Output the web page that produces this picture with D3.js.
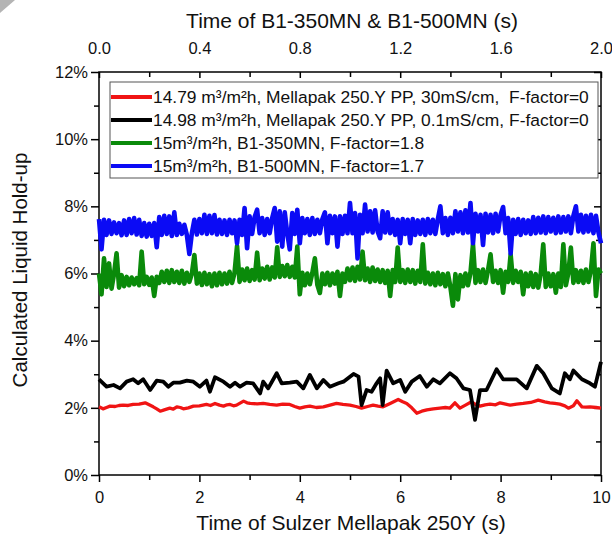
<!DOCTYPE html>
<html>
<head>
<meta charset="utf-8">
<script src="https://cdn.jsdelivr.net/npm/d3@7"></script>
<style>
  body { margin: 0; background: #fff; }
  text { font-family: "Liberation Sans", Arial, sans-serif; }
</style>
</head>
<body>
<div id="chart"></div>
<script>
// Sulzer Mellapak 250Y runs (bottom axis, seconds)
var redTime = [0,0.08,0.15,0.22,0.32,0.4,0.48,0.58,0.68,0.8,0.92,1,1.08,1.15,1.22,1.3,1.41,1.48,1.55,1.62,1.68,1.78,1.88,2,2.14,2.22,2.31,2.4,2.48,2.55,2.61,2.68,2.74,2.88,2.95,3.01,3.15,3.27,3.4,3.54,3.66,3.8,3.9,4,4.1,4.2,4.33,4.47,4.6,4.73,4.86,5,5.12,5.23,5.35,5.46,5.56,5.66,5.8,5.96,6.05,6.13,6.23,6.33,6.43,6.53,6.66,6.79,6.9,6.99,7.09,7.19,7.3,7.42,7.5,7.59,7.69,7.79,7.9,7.99,8.1,8.19,8.32,8.45,8.6,8.75,8.88,8.98,9.08,9.18,9.28,9.35,9.45,9.52,9.62,9.7,9.78,9.9,10];
var redHold = [2.03,1.97,2.01,2.05,2.04,2.07,2.08,2.07,2.1,2.11,2.15,2.09,2.03,1.97,1.9,1.94,1.99,1.96,2.03,2.01,1.97,2,2.05,2.06,2.1,2.07,2.13,2.08,2.05,2.09,2.1,2.06,2.08,2.2,2.15,2.13,2.12,2.13,2.1,2.08,2.11,2.1,2.04,1.99,2.03,2.05,2.01,2.03,2.08,2.13,2.1,2.08,2.04,1.99,2.04,2.08,2.05,2.03,2.13,2.25,2.18,2.13,2,1.84,1.9,1.94,1.97,1.99,2.01,1.99,2.15,1.99,2.08,2.18,2.1,2.05,2.09,2.11,2.09,2.15,2.11,2.08,2.11,2.13,2.16,2.23,2.18,2.15,2.13,2.11,2.06,1.99,2.06,2.21,2.03,2.02,2.03,2.01,1.99];

var blackTime = [0,0.15,0.29,0.42,0.55,0.68,0.78,0.88,1.02,1.15,1.28,1.38,1.48,1.61,1.75,1.88,2.01,2.14,2.21,2.31,2.48,2.61,2.71,2.81,2.94,3.07,3.21,3.27,3.37,3.54,3.64,3.8,3.94,4.07,4.2,4.34,4.47,4.6,4.77,4.87,5.07,5.17,5.23,5.33,5.43,5.53,5.6,5.65,5.73,5.86,6,6.1,6.23,6.39,6.53,6.66,6.79,6.99,7.12,7.26,7.39,7.49,7.59,7.72,7.92,8.05,8.32,8.52,8.72,8.85,9.02,9.18,9.28,9.38,9.45,9.62,9.78,9.88,10];
var blackHold = [2.85,2.63,2.68,2.58,2.78,2.85,2.73,2.85,2.53,2.81,2.78,2.63,2.75,2.75,2.81,2.78,2.63,2.81,2.48,2.91,2.78,2.63,2.75,2.63,2.75,2.73,2.43,2.78,2.58,3.03,2.73,2.75,2.78,2.58,2.98,2.58,2.83,2.63,2.73,2.78,3.01,2.93,2.08,2.53,2.48,2.73,2.88,2.08,3.11,2.73,2.83,2.48,2.78,2.95,2.63,2.85,2.73,3.03,2.88,2.58,2.53,1.64,2.53,2.53,3.15,2.85,2.85,2.58,3.25,3.03,2.58,2.43,3.03,2.85,3.11,2.85,2.73,2.63,3.37];

// B1-350MN / B1-500MN runs (top axis), sampled every 0.01 s
var b1Step = 0.01;
var greenHold = [
  6.0,5.38,6.45,5.6,6.3,5.55,6.0,6.6,5.58,5.95,
  5.62,5.9,5.65,5.88,5.68,5.86,5.65,6.65,5.68,5.9,
  5.66,5.88,5.33,5.9,5.72,6.05,5.75,6.08,5.72,6.1,
  5.75,6.05,5.72,6.08,5.7,6.02,5.75,6.0,6.55,5.7,
  6.0,5.66,6.02,5.68,5.98,5.62,6.0,5.65,6.02,5.68,
  6.0,5.7,6.05,5.72,6.02,6.82,5.75,6.12,5.8,6.15,
  5.78,6.1,5.82,6.62,5.8,6.15,5.85,6.2,5.82,6.18,
  5.88,6.78,5.9,6.22,5.92,6.25,5.9,6.2,5.88,6.8,
  5.38,6.02,5.65,6.0,5.68,6.02,6.45,5.66,5.42,6.0,
  5.68,6.02,5.65,6.0,5.7,6.05,5.33,6.0,5.75,6.15,
  5.8,6.18,5.78,6.2,5.82,6.65,5.8,6.15,5.75,6.18,
  5.78,6.12,5.75,6.1,5.72,6.08,5.33,6.1,5.75,6.77,
  5.75,6.1,5.72,6.12,5.75,6.1,5.7,6.08,5.75,6.87,
  5.7,6.02,5.68,6.0,5.65,6.02,5.68,5.98,5.62,6.0,
  5.6,5.04,5.98,5.23,5.95,5.62,6.0,5.65,6.02,6.87,
  5.72,6.1,5.75,6.12,5.72,6.1,6.57,5.75,6.08,5.72,
  6.1,5.43,6.05,5.75,6.57,5.72,6.08,5.75,6.05,5.38,
  6.0,5.62,6.02,5.6,5.98,5.58,6.0,6.87,5.6,6.0,
  5.62,5.98,5.43,6.0,5.6,6.87,5.65,6.02,6.77,5.72,
  6.1,5.75,6.08,5.72,6.12,5.75,6.1,6.9,5.33,6.12,
  6.0];
var blueHold = [
  7.62,6.72,7.6,7.15,7.58,7.18,7.52,7.2,7.5,7.14,
  7.58,7.15,7.62,7.2,7.65,7.16,7.6,7.12,7.5,7.1,
  7.48,7.12,7.5,6.78,7.68,7.15,7.72,7.18,7.7,7.12,
  7.82,7.15,7.48,7.18,7.45,7.15,6.58,7.2,7.6,7.16,
  7.62,7.2,7.75,7.18,7.72,7.2,7.74,7.16,7.6,7.18,
  7.58,7.15,7.6,7.2,7.58,6.9,7.6,7.15,7.95,6.75,
  7.7,7.18,7.68,7.9,7.2,7.65,7.15,7.62,7.2,7.65,
  7.95,6.95,7.85,6.8,7.82,7.2,6.72,7.8,7.18,7.9,
  6.9,7.65,7.2,7.62,7.15,7.65,7.18,7.6,7.2,7.62,
  7.82,6.9,7.72,7.2,7.7,6.8,7.7,7.18,7.72,7.2,
  8.1,7.2,7.8,6.45,7.75,7.2,8.05,7.25,7.85,7.22,
  7.88,7.25,7.05,7.85,7.22,7.82,7.2,7.62,7.15,7.6,
  6.9,7.62,7.18,7.6,6.9,7.62,7.15,7.58,7.18,7.6,
  7.15,7.62,7.2,7.6,7.18,7.62,8.0,7.2,7.65,7.15,
  7.66,7.2,7.85,7.25,7.82,7.2,7.88,7.22,8.1,6.9,
  7.78,7.25,7.75,6.85,7.78,7.22,7.75,7.2,7.78,7.25,
  7.75,7.98,7.2,7.65,6.6,7.6,7.18,7.62,7.15,7.6,
  7.2,7.58,7.18,7.68,7.2,7.66,7.22,7.7,7.2,7.68,
  7.25,7.66,7.2,7.7,7.22,7.68,7.25,7.7,7.2,7.72,
  8.0,7.25,7.75,7.22,7.72,7.25,7.75,7.2,7.72,7.22,
  6.9];

var legendLabels = [
  "14.79 m\u00b3/m\u00b2h, Mellapak 250.Y PP, 30mS/cm,  F-factor=0",
  "14.98 m\u00b3/m\u00b2h, Mellapak 250.Y PP, 0.1mS/cm, F-factor=0",
  "15m\u00b3/m\u00b2h, B1-350MN, F-factor=1.8",
  "15m\u00b3/m\u00b2h, B1-500MN, F-factor=1.7"
];
var seriesColors = ["#f01414", "#000000", "#0a8a0a", "#0b0bf5"];

var yMajor = [0, 2, 4, 6, 8, 10, 12];
var yMinor = [1, 3, 5, 7, 9, 11];
var xBottomMajor = [0, 2, 4, 6, 8, 10];
var xBottomMinor = [1, 3, 5, 7, 9];
var xTopMajor = [0, 0.4, 0.8, 1.2, 1.6, 2.0];
var xTopMinor = [0.2, 0.6, 1.0, 1.4, 1.8];

var width = 612, height = 539;
var plotLeft = 99, plotRight = 601, plotTop = 72, plotBottom = 475;

var svg = d3.select("#chart").append("svg")
  .attr("width", width)
  .attr("height", height);

// little grey corner from the scan
svg.append("polygon")
  .attr("points", "0,0 15,0 0,13")
  .attr("fill", "#b4b4b4");

var x = d3.scaleLinear().domain([0, 10]).range([plotLeft, plotRight]);
var xTop = d3.scaleLinear().domain([0, 2]).range([plotLeft, plotRight]);
var y = d3.scaleLinear().domain([0, 12]).range([plotBottom, plotTop]);

function styleAxis(g, fontSize) {
  g.select(".domain").remove();
  g.selectAll(".tick line").attr("stroke", "#000").attr("stroke-width", 1.5);
  g.selectAll("text")
    .attr("fill", "#111")
    .style("font-size", fontSize + "px")
    .style("font-family", '"Liberation Sans", Arial, sans-serif');
}

// left axis
svg.append("g").attr("transform", "translate(" + plotLeft + ",0)")
  .call(d3.axisLeft(y).tickValues(yMajor).tickSize(8).tickPadding(3)
    .tickFormat(function(d) { return d + "%"; }))
  .call(styleAxis, 16.5);
svg.append("g").attr("transform", "translate(" + plotLeft + ",0)")
  .call(d3.axisLeft(y).tickValues(yMinor).tickSize(5).tickFormat(""))
  .call(styleAxis, 16.5);

// right axis, ticks inside
svg.append("g").attr("transform", "translate(" + plotRight + ",0)")
  .call(d3.axisRight(y).tickValues(yMajor).tickSize(-7).tickFormat(""))
  .call(styleAxis, 16.5);
svg.append("g").attr("transform", "translate(" + plotRight + ",0)")
  .call(d3.axisRight(y).tickValues(yMinor).tickSize(-5).tickFormat(""))
  .call(styleAxis, 16.5);

// bottom axis
svg.append("g").attr("transform", "translate(0," + plotBottom + ")")
  .call(d3.axisBottom(x).tickValues(xBottomMajor).tickSize(7).tickPadding(9))
  .call(styleAxis, 16.5);
svg.append("g").attr("transform", "translate(0," + plotBottom + ")")
  .call(d3.axisBottom(x).tickValues(xBottomMinor).tickSize(5).tickFormat(""))
  .call(styleAxis, 16.5);

// top axis, ticks inside
svg.append("g").attr("transform", "translate(0," + plotTop + ")")
  .call(d3.axisTop(xTop).tickValues(xTopMajor).tickSize(-6).tickPadding(18)
    .tickFormat(d3.format(".1f")))
  .call(styleAxis, 16.5);
svg.append("g").attr("transform", "translate(0," + plotTop + ")")
  .call(d3.axisTop(xTop).tickValues(xTopMinor).tickSize(-5).tickFormat(""))
  .call(styleAxis, 16.5);

// frame
svg.append("rect")
  .attr("x", plotLeft).attr("y", plotTop)
  .attr("width", plotRight - plotLeft).attr("height", plotBottom - plotTop)
  .attr("fill", "none").attr("stroke", "#000").attr("stroke-width", 1.5);

// series
var lineBottom = d3.line()
  .x(function(d) { return x(d[0]); })
  .y(function(d) { return y(d[1]); });
var lineTop = d3.line()
  .x(function(d, i) { return xTop(i * b1Step); })
  .y(function(d) { return y(d); });

var plot = svg.append("g");
plot.append("path")
  .attr("d", lineBottom(d3.zip(redTime, redHold)))
  .attr("fill", "none").attr("stroke", seriesColors[0])
  .attr("stroke-width", 3.3).attr("stroke-linejoin", "round");
plot.append("path")
  .attr("d", lineBottom(d3.zip(blackTime, blackHold)))
  .attr("fill", "none").attr("stroke", seriesColors[1])
  .attr("stroke-width", 3.8).attr("stroke-linejoin", "round");
plot.append("path")
  .attr("d", lineTop(greenHold))
  .attr("fill", "none").attr("stroke", seriesColors[2])
  .attr("stroke-width", 4.6).attr("stroke-linejoin", "round");
plot.append("path")
  .attr("d", lineTop(blueHold))
  .attr("fill", "none").attr("stroke", seriesColors[3])
  .attr("stroke-width", 4.6).attr("stroke-linejoin", "round");

// legend
var legend = svg.append("g");
legend.append("rect")
  .attr("x", 110).attr("y", 82).attr("width", 488).attr("height", 96)
  .attr("fill", "#fff").attr("stroke", "#555").attr("stroke-width", 1);

var rows = legend.selectAll(".row")
  .data(legendLabels)
  .enter().append("g")
  .attr("transform", function(d, i) { return "translate(0," + (97 + i * 23) + ")"; });
rows.append("line")
  .attr("x1", 111).attr("x2", 152)
  .attr("stroke", function(d, i) { return seriesColors[i]; })
  .attr("stroke-width", 4);
rows.append("text")
  .attr("x", 153).attr("y", 6)
  .style("font-size", "17.4px")
  .style("white-space", "pre")
  .attr("fill", "#111")
  .text(function(d) { return d; });

// axis titles
svg.append("text")
  .attr("x", 352).attr("y", 28)
  .attr("text-anchor", "middle")
  .style("font-size", "21px").attr("fill", "#111")
  .text("Time of B1-350MN & B1-500MN (s)");
svg.append("text")
  .attr("x", 351).attr("y", 530)
  .attr("text-anchor", "middle")
  .style("font-size", "21px").attr("fill", "#111")
  .text("Time of Sulzer Mellapak 250Y (s)");
svg.append("text")
  .attr("transform", "translate(27," + 270 + ") rotate(-90)")
  .attr("text-anchor", "middle")
  .style("font-size", "20.5px").attr("fill", "#111")
  .text("Calculated Liquid Hold-up");
</script>
</body>
</html>
